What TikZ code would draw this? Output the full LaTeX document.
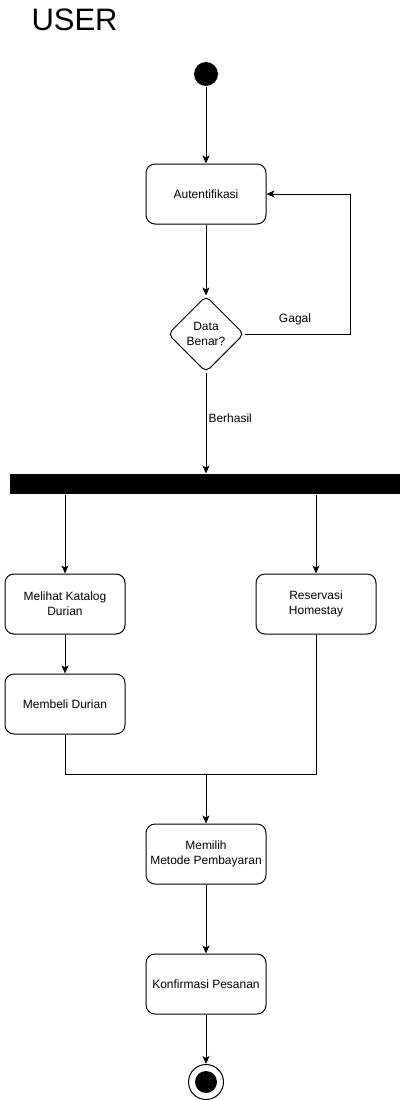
\documentclass[tikz,border=0pt]{standalone}
\usepackage{fontspec}
\setmainfont{Liberation Sans}
\usetikzlibrary{arrows.meta,shapes.geometric}
\tikzset{>={Stealth[length=8pt,width=7pt,inset=2pt]}}
\tikzstyle{activity}=[rectangle,draw=black,line width=1pt,minimum height=60pt,minimum width=120pt,rounded corners=9pt,align=center,font=\fontsize{12}{15}\selectfont]
\tikzstyle{decision}=[diamond,draw=black,line width=1pt,minimum height=76pt,minimum width=76pt,inner sep=0pt,rounded corners=5pt,align=center,font=\fontsize{12}{15}\selectfont]
\tikzstyle{forkbar}=[rectangle,fill=black,minimum height=20pt,minimum width=390pt,inner sep=0pt]
\tikzstyle{initial}=[circle,fill=black,minimum size=24pt,inner sep=0pt]
\tikzstyle{final}=[circle,draw=black,line width=1pt,minimum size=35pt,inner sep=0pt]
\tikzstyle{guard}=[font=\fontsize{12}{15}\selectfont,inner sep=2pt]

\begin{document}
\begin{tikzpicture}[x=1pt,y=-1pt,line width=1pt]
\def \mid {206};
\def \lft {65};
\def \rgt {316};

\useasboundingbox (0,0) rectangle (412,1100);

\node[anchor=base west,inner sep=0pt,font=\fontsize{31}{36}\selectfont] (title) at (31,30) {USER};

\node[initial] (start) at (\mid, 74) {};

\node[activity] (auth) at (\mid, 194) {Autentifikasi};

\node[decision] (check) at (\mid, 334) {Data\\Benar?};

\node[forkbar] (fork) at (205, 484) {};

\node[activity] (katalog) at (\lft, 604) {Melihat Katalog\\Durian};
\node[activity] (homestay) at (\rgt, 604) {Reservasi\\Homestay};
\node[activity] (beli) at (\lft, 704) {Membeli Durian};

\coordinate (merge) at (\mid, 774);

\node[activity] (bayar) at (\mid, 854) {Memilih\\Metode Pembayaran};
\node[activity] (konfirm) at (\mid, 984) {Konfirmasi Pesanan};

\node[final] (stop) at (\mid, 1082) {};
\node[initial,minimum size=22pt] (stopdot) at (stop) {};

\draw[->] (start) -- (auth);
\draw[->] (auth) -- (check);
\draw[->] (check.east) -- ++(106,0) |- (auth.east);
\node[guard] (lblfail) at (295, 319) {Gagal};
\draw[->] (check) -- (fork.north -| check) node[guard,pos=0.45,right] (lblok) {Berhasil};

\draw[->] (fork.south -| katalog) -- (katalog);
\draw[->] (fork.south -| homestay) -- (homestay);
\draw[->] (katalog) -- (beli);

\draw (beli) |- (merge);
\draw (homestay) |- (merge);
\draw[->] (merge) -- (bayar);

\draw[->] (bayar) -- (konfirm);
\draw[->] (konfirm) -- (stop);

\end{tikzpicture}
\end{document}
